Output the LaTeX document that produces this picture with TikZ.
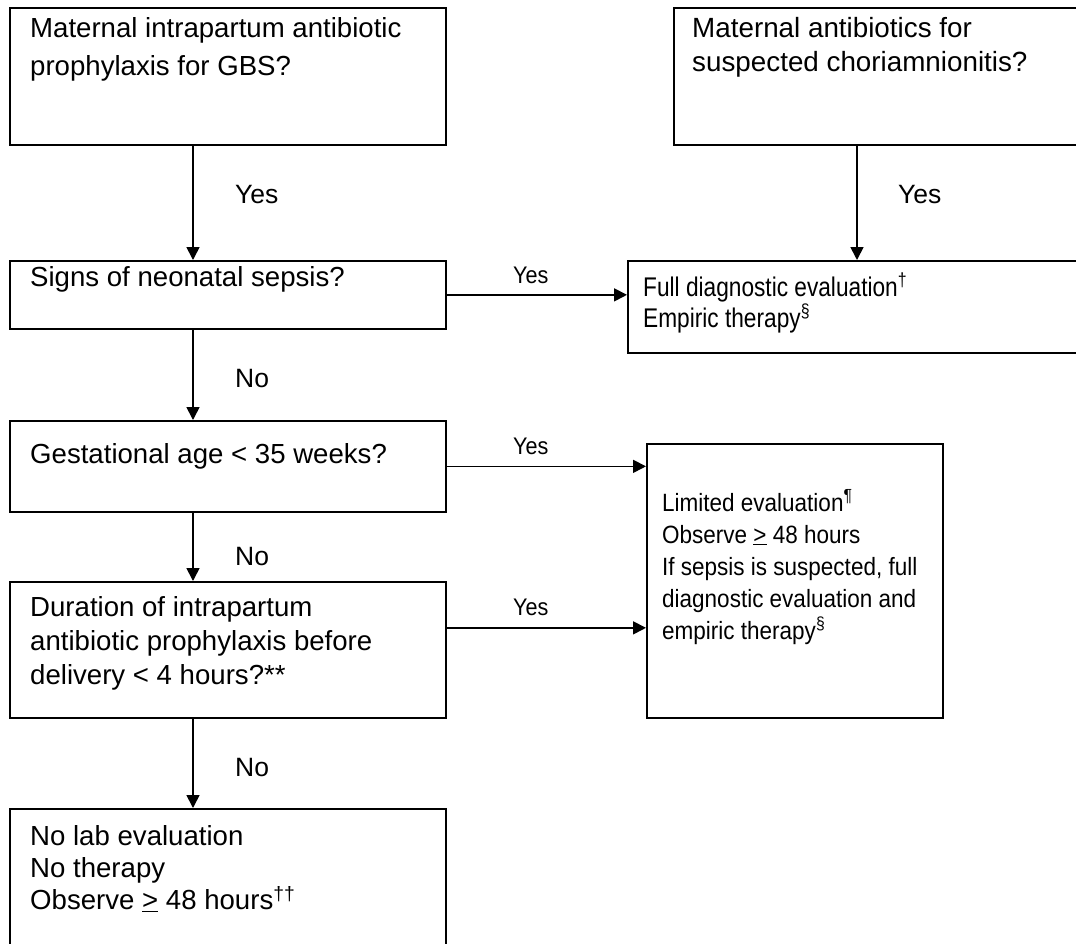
\documentclass[tikz,border=0pt]{standalone}
\usepackage{fontspec}
\setmainfont{Liberation Sans}
\newfontfamily\narrowA[FakeStretch=0.84]{Liberation Sans}
\newfontfamily\narrowB[FakeStretch=0.9]{Liberation Sans}
\usetikzlibrary{arrows.meta}
\begin{document}
\begin{tikzpicture}[x=1pt,y=-1pt,
  box/.style={draw, line width=1.7pt, inner sep=0pt, anchor=north west},
  txt/.style={inner sep=0pt, anchor=base west, font=\fontsize{27.6}{34}\selectfont},
  lbl/.style={inner sep=0pt, anchor=base west, font=\fontsize{26.5}{30}\selectfont},
  nlbl/.style={inner sep=0pt, anchor=base west, font=\narrowB\fontsize{24}{28}\selectfont},
  arr/.style={line width=1.7pt, -{Triangle[length=13pt,width=13pt]}}]
\useasboundingbox (0,0) rectangle (1076,943);
\fill[white] (0,0) rectangle (1076,943);
\clip (0,0) rectangle (1076,943);
% boxes
\node[box, minimum width=436, minimum height=137] (A) at (9,7) {};
\node[box, minimum width=417, minimum height=137] (B) at (673,7) {};
\node[box, minimum width=436, minimum height=68] (S) at (9,260) {};
\node[box, minimum width=463, minimum height=92] (F) at (627,260) {};
\node[box, minimum width=436, minimum height=91] (G) at (9,420) {};
\node[box, minimum width=436, minimum height=136] (D) at (9,581) {};
\node[box, minimum width=296, minimum height=274] (L) at (646,443) {};
\node[box, minimum width=436, minimum height=152] (N) at (9,808) {};
% texts
\node[txt, font=\fontsize{27.6}{38}\selectfont] (tA) at (30,37.7) {\vtop{\hbox{Maternal intrapartum antibiotic}\hbox{prophylaxis for GBS?}}};
\node[txt, font=\fontsize{27.8}{34}\selectfont] (tB) at (692,37.7) {\vtop{\hbox{Maternal antibiotics for}\hbox{suspected choriamnionitis?}}};
\node[txt] (tS) at (30,286.7) {Signs of neonatal sepsis?};
\node[txt, font=\narrowA\fontsize{27}{31}\selectfont] (tF) at (643,296) {\vtop{\hbox{Full diagnostic evaluation\textsuperscript{†}}\hbox{Empiric therapy\textsuperscript{§}}}};
\node[txt] (tG) at (30,463) {Gestational age < 35 weeks?};
\node[txt] (tD) at (30,616) {\vtop{\hbox{Duration of intrapartum}\hbox{antibiotic prophylaxis before}\hbox{delivery < 4 hours?**}}};
\node[txt, font=\narrowB\fontsize{25}{32}\selectfont] (tL) at (662,511) {\vtop{\hbox{Limited evaluation\textsuperscript{¶}}\hbox{Observe \underline{>} 48 hours}\hbox{If sepsis is suspected, full}\hbox{diagnostic evaluation and}\hbox{empiric therapy\textsuperscript{§}}}};
\node[txt, font=\fontsize{27.6}{32.3}\selectfont] (tN) at (30,845) {\vtop{\hbox{No lab evaluation}\hbox{No therapy}\hbox{Observe \underline{>} 48 hours\textsuperscript{††}}}};
% connector columns
\coordinate (c1) at (193,0);
\coordinate (c2) at (857,0);
% connectors
\draw[arr] (A.south -| c1) -- (S.north -| c1);
\draw[arr] (B.south -| c2) -- (F.north -| c2);
\draw[arr] (S.east) -- (S.east -| F.west);
\draw[arr] (S.south -| c1) -- (G.north -| c1);
\draw[arr] (G.east) -- (G.east -| L.west);
\draw[arr] (G.south -| c1) -- (D.north -| c1);
\draw[arr] ([yshift=22pt]D.east) -- ([yshift=22pt]D.east -| L.west);
\draw[arr] (D.south -| c1) -- (N.north -| c1);
% labels
\node[lbl] (y1) at (235,203.3) {Yes};
\node[lbl] (y2) at (898,203.3) {Yes};
\node[nlbl] (y3) at (513,283) {Yes};
\node[nlbl] (y4) at (513,454) {Yes};
\node[nlbl] (y5) at (513,615) {Yes};
\node[lbl] (n1) at (235,387) {No};
\node[lbl] (n2) at (235,565) {No};
\node[lbl] (n3) at (235,776) {No};
\end{tikzpicture}
\end{document}
